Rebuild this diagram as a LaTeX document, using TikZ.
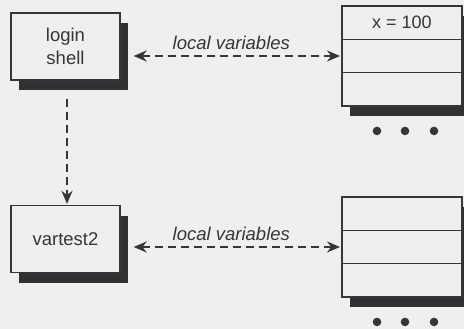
\documentclass[tikz,border=0pt]{standalone}
\usepackage{fontspec}
\setmainfont{Liberation Sans}
\usepackage{tikz}
\usetikzlibrary{arrows.meta,positioning,shadows,backgrounds}
\definecolor{paper}{RGB}{239,239,237}
\definecolor{ink}{RGB}{55,52,58}
\definecolor{shadowgray}{RGB}{50,48,50}

\begin{document}
\begin{tikzpicture}[x=1pt,y=-1pt]
        \tikzset{proc/.style = {draw=ink,line width=1.4pt,fill=paper,minimum width=109pt,minimum height=67pt,
                align=center,text=ink,font=\fontsize{18.5}{23}\selectfont,
                drop shadow={shadow xshift=8pt,shadow yshift=-10pt,fill=shadowgray,opacity=1}}}
        \tikzset{cell/.style = {draw=ink,line width=1.6pt,minimum width=120pt,minimum height=33.3pt,
                inner sep=0pt,outer sep=0pt,text=ink,font=\fontsize{18}{22}\selectfont}}
        \tikzset{link/.style = {draw=ink,line width=2pt,dash pattern=on 8pt off 5pt,
                -{Stealth[length=13pt,width=11pt]}}}
        \tikzset{twoway/.style = {link,{Stealth[length=13pt,width=11pt]}-{Stealth[length=13pt,width=11pt]}}}
        \tikzset{tag/.style = {text=ink,font=\fontsize{18.5}{22}\selectfont\itshape}}
        \useasboundingbox (0,0) rectangle (464,329);
        % processes
        \node[proc] (login) at (65.5,46.5) {login\\shell};
        \node[proc] (vartest) at (65.5,239) {vartest2};
        % variable stacks
        \node[cell] (top1) at (402,22.7) {x = 100};
        \node[cell,below=0pt of top1] (top2) {};
        \node[cell,below=0pt of top2] (top3) {};
        \node[cell] (bot1) at (402,213.7) {};
        \node[cell,below=0pt of bot1] (bot2) {};
        \node[cell,below=0pt of bot2] (bot3) {};
        \begin{pgfonlayer}{background}
                \fill[paper] (0,0) rectangle (464,329);
                \foreach \s in {top,bot}{
                        \fill[shadowgray] ([shift={(8,10)}]\s1.north west) rectangle ([shift={(8,10)}]\s3.south east);
                        \fill[paper] (\s1.north west) rectangle (\s3.south east);
                }
        \end{pgfonlayer}
        \foreach \d in {-25,3,32}{
                \fill[ink] ([xshift=\d pt,yshift=-25pt]top3.south) circle (4.3pt);
                \fill[ink] ([xshift=\d pt,yshift=-25pt]bot3.south) circle (4.3pt);
        }
        % links
        \draw[link,shorten >=1pt] (login.south) ++(1.5,18) coordinate (down) -- (down |- vartest.north);
        \draw[twoway,shorten <=13pt,shorten >=2pt] (login.east |- top2.west) -- (top2.west)
                node[tag,midway,above=2pt] {local variables};
        \draw[twoway,shorten <=13pt,shorten >=2pt] (vartest.east |- bot2.west) -- (bot2.west)
                node[tag,midway,above=2pt] {local variables};
\end{tikzpicture}
\end{document}
